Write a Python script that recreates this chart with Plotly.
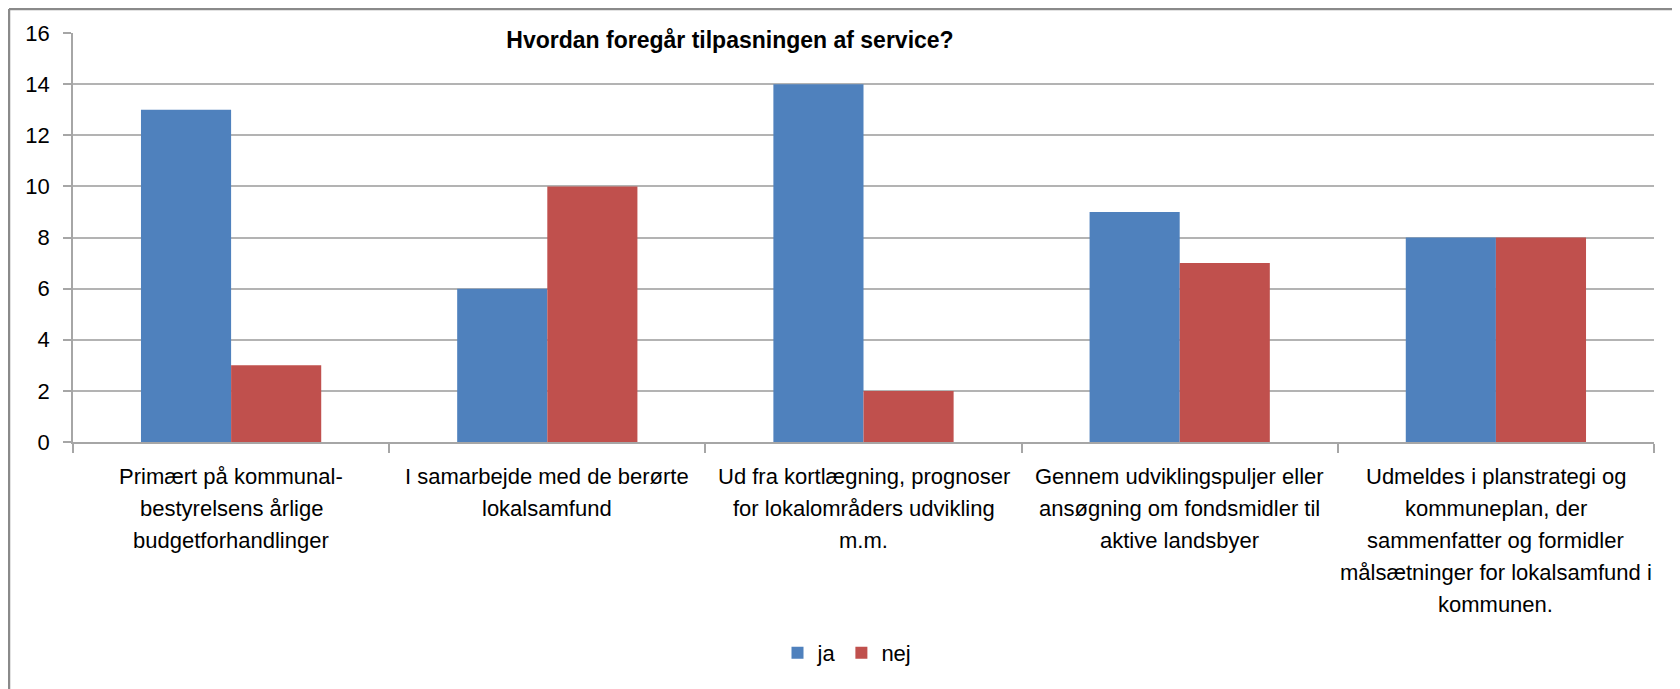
import plotly.graph_objects as go

# the page body adds an 8px offset, so the figure is laid out in
# reference pixels minus OFF
OFF = 8
W, H = 1680 - OFF, 689 - OFF

categories = [
    "Primært på kommunal-bestyrelsens årlige budgetforhandlinger",
    "I samarbejde med de berørte lokalsamfund",
    "Ud fra kortlægning, prognoser for lokalområders udvikling m.m.",
    "Gennem udviklingspuljer eller ansøgning om fondsmidler til aktive landsbyer",
    "Udmeldes i planstrategi og kommuneplan, der sammenfatter og formidler målsætninger for lokalsamfund i kommunen.",
]
category_lines = [
    ["Primært på kommunal-", "bestyrelsens årlige", "budgetforhandlinger"],
    ["I samarbejde med de berørte", "lokalsamfund"],
    ["Ud fra kortlægning, prognoser", "for lokalområders udvikling", "m.m."],
    ["Gennem udviklingspuljer eller", "ansøgning om fondsmidler til", "aktive landsbyer"],
    ["Udmeldes i planstrategi og", "kommuneplan, der", "sammenfatter og formidler",
     "målsætninger for lokalsamfund i", "kommunen."],
]
ja = [13, 6, 14, 9, 8]
nej = [3, 10, 2, 7, 8]
y_ticks = [0, 2, 4, 6, 8, 10, 12, 14, 16]

font = "Liberation Sans, Arial, sans-serif"

# plot area in reference pixels
ML, MR, MT, MB = 73 - OFF, 1680 - 1654, 33 - OFF, 689 - 442

fig = go.Figure()
fig.add_trace(go.Bar(x=categories, y=ja, name="ja", marker_color="#4F81BD",
                     marker_line_width=0))
fig.add_trace(go.Bar(x=categories, y=nej, name="nej", marker_color="#C0504D",
                     marker_line_width=0))

pw = W - ML - MR
ph = H - MT - MB
def px_x(p):
    return (p - OFF - ML) / pw
def px_y(p):
    return (H - MB - (p - OFF)) / ph

# outer frame (only top and left edge visible)
fig.add_shape(type="line", xref="paper", yref="paper",
              x0=px_x(9), x1=px_x(1690), y0=px_y(9), y1=px_y(9),
              line=dict(color="#8a8a8a", width=2.5))
fig.add_shape(type="line", xref="paper", yref="paper",
              x0=px_x(9), x1=px_x(9), y0=px_y(9), y1=px_y(700),
              line=dict(color="#8a8a8a", width=2.5))

# category labels, one annotation per line (Excel uses wider line spacing)
for cat, lines in zip(categories, category_lines):
    for i, txt in enumerate(lines):
        fig.add_annotation(x=cat, y=0, xref="x", yref="y", text=txt,
                           showarrow=False, xanchor="center", yanchor="middle",
                           yshift=-(34 + 32 * i),
                           font=dict(family=font, size=22, color="#000000"))

fig.update_layout(
    width=W, height=H,
    margin=dict(l=ML, r=MR, t=MT, b=MB),
    paper_bgcolor="white", plot_bgcolor="white",
    font=dict(family=font, size=22, color="#000000"),
    barmode="group", bargap=0.43, bargroupgap=0,
    title=dict(text="<b>Hvordan foregår tilpasningen af service?</b>",
               x=(730 - OFF) / W, xanchor="center",
               y=1 - (40 - OFF) / H, yanchor="middle",
               font=dict(family=font, size=23, color="#000000")),
    legend=dict(orientation="h", x=(847 - OFF) / W, xref="container",
                xanchor="center", y=1 - (653 - OFF) / H, yref="container",
                yanchor="middle", font=dict(size=22), traceorder="normal"),
    showlegend=True,
)
fig.update_xaxes(showline=True, linecolor="#a6a6a6", linewidth=1.5,
                 ticks="outside", tickson="boundaries", ticklen=9,
                 tickcolor="#a6a6a6", tickwidth=1.5, showgrid=False,
                 showticklabels=False)
fig.update_yaxes(range=[0, 16], tickvals=y_ticks, showline=True,
                 linecolor="#a6a6a6", linewidth=1.5, ticks="outside",
                 ticklen=8, tickcolor="#a6a6a6", tickwidth=1.5,
                 showgrid=True, gridcolor="#b3b3b3", gridwidth=1.5,
                 zeroline=False, ticklabelstandoff=9)

fig.write_html("out.html")
